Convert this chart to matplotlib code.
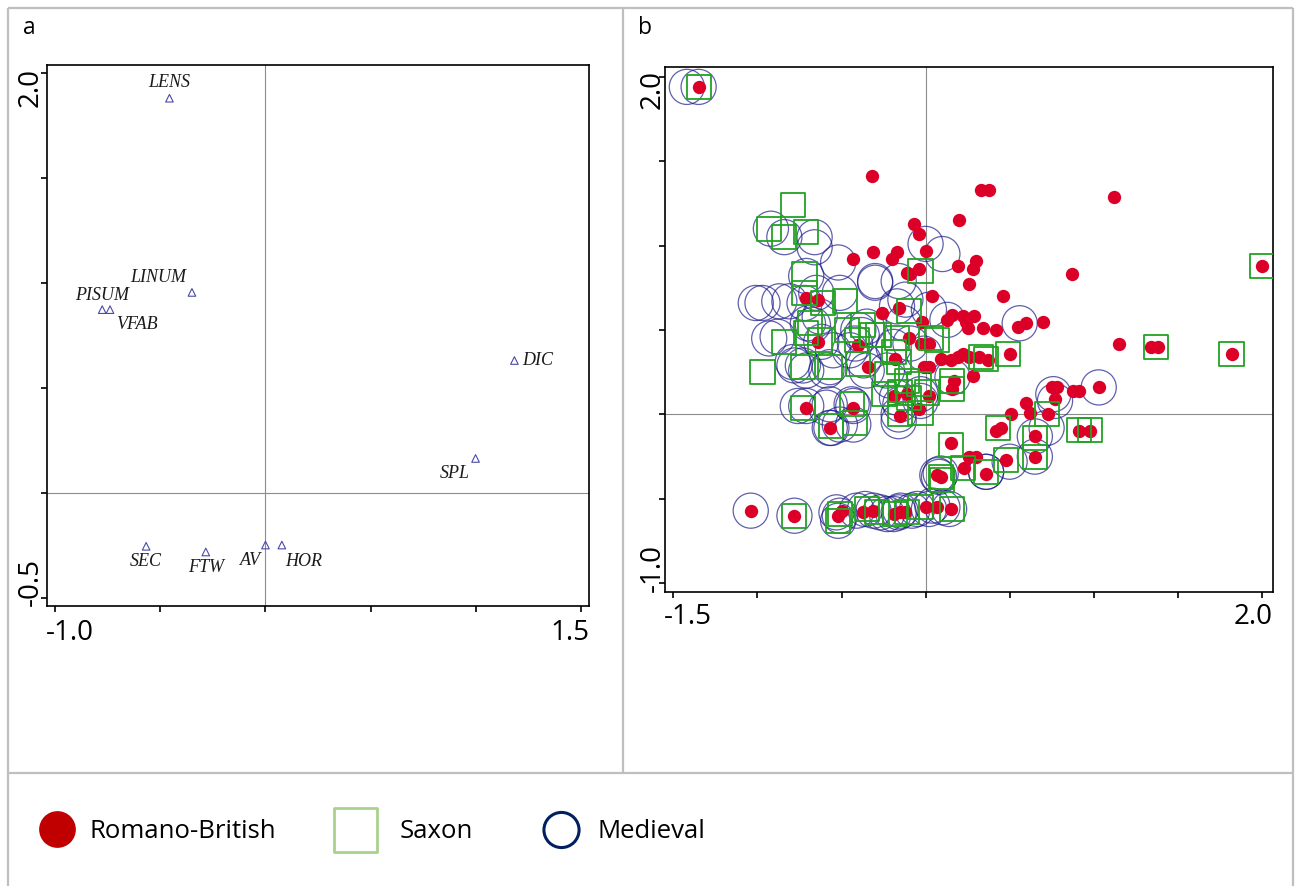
import numpy as np
import matplotlib
matplotlib.use('Agg')
import matplotlib.pyplot as plt

# ---- panel a : species scores ----
species = ['LENS', 'LINUM', 'PISUM', 'VFAB', 'DIC', 'SPL', 'SEC', 'FTW', 'AV', 'HOR']
sp_x = [-0.457, -0.35, -0.777, -0.740, 1.185, 1.000, -0.568, -0.284, 0.000, 0.078]
sp_y = [1.879, 0.955, 0.873, 0.873, 0.631, 0.165, -0.253, -0.280, -0.247, -0.247]

# ---- panel b : sample scores by period ----
rb_x = [-1.35, -0.32, 0.33, 0.38, 1.12, 0.20, -0.07, -0.04, 0.00, 0.30, 0.28, 0.19, 2.00, 0.87,
        -0.04, -0.09, 0.26, 0.46, 0.04, 0.13, 0.16, 0.22, 0.29, 0.25, 0.34, 0.42, 0.55, 0.60,
        0.70, -0.02, 1.15, 1.34, 1.38, 1.82, 0.50, 0.32, 0.37, 0.22, 0.15, 0.09, -0.01, 0.28,
        0.17, 0.16, 0.02, 1.03, 0.75, 0.78, 0.88, 0.91, 0.77, 0.60, 0.62, 0.73, 0.51, 0.42,
        0.45, 0.91, 0.98, 0.65, 0.15, 0.65, 0.48, 0.26, 0.30, 0.23, 0.36, 0.09, 0.07, -0.15,
        -0.12, -0.19, 0.00, 0.07, 0.15, -1.04, -0.78, -0.52, -0.50, -0.37, -0.31, -0.57, -0.43,
        -0.31, -0.17, -0.20, -0.11, -0.71, -0.64, -0.26, -0.16, -0.10, -0.03, 0.02, -0.64,
        -0.40, -0.18, -0.34, 0.02, -0.19, -0.11, -0.15, -0.04, -0.71, -0.43, 0.24, 0.19, 0.26]
rb_y = [1.94, 1.41, 1.33, 1.33, 1.29, 1.15, 1.13, 1.07, 0.97, 0.91, 0.86, 0.88, 0.88, 0.83,
        0.86, 0.83, 0.77, 0.70, 0.70, 0.56, 0.59, 0.58, 0.58, 0.51, 0.51, 0.50, 0.52, 0.54,
        0.55, 0.55, 0.42, 0.40, 0.40, 0.36, 0.36, 0.34, 0.32, 0.36, 0.32, 0.33, 0.28, 0.23,
        0.20, 0.15, 0.11, 0.16, 0.16, 0.16, 0.14, 0.14, 0.09, 0.07, 0.01, 0.00, 0.00, -0.10,
        -0.08, -0.10, -0.10, -0.13, -0.17, -0.25, -0.27, -0.25, -0.25, -0.32, -0.35, -0.37,
        -0.36, -0.58, -0.58, -0.59, -0.55, -0.55, -0.56, -0.57, -0.60, -0.60, -0.57, -0.58,
        -0.57, -0.08, 0.92, 0.96, 0.96, 0.92, 0.84, 0.69, 0.68, 0.60, 0.63, 0.45, 0.42, 0.42,
        0.43, 0.41, 0.33, 0.28, 0.28, 0.11, 0.12, -0.01, 0.03, 0.04, 0.04, 0.55, 0.34, 0.34]

sax_x = [-1.35, -0.79, -0.93, -0.84, -0.71, -0.72, -0.72, -0.61, -0.48, -0.03, 2.00, -0.69,
         -0.84, -0.63, -0.71, -0.47, -0.28, -0.41, -0.17, 0.03, -0.10, -0.97, -0.73, -0.57,
         -0.40, -0.19, -0.16, -0.23, -0.11, -0.25, -0.15, -0.10, 0.01, -0.04, -0.73, -0.44,
         -0.15, -0.03, -0.56, -0.42, 0.07, 0.33, 0.36, 0.49, 0.16, -0.32, -0.37, 0.72, 0.43,
         0.15, 1.37, 1.82, 0.91, 0.98, 0.65, 0.65, 0.48, 0.36, 0.09, 0.10, 0.22, -0.78, -0.51,
         -0.52, -0.35, -0.29, -0.18, -0.11, -0.03, 0.16, 0.16]
sax_y = [1.94, 1.24, 1.10, 1.05, 1.08, 0.83, 0.72, 0.66, 0.67, 0.85, 0.88, 0.54, 0.43, 0.44,
         0.48, 0.50, 0.47, 0.44, 0.45, 0.45, 0.61, 0.25, 0.28, 0.28, 0.30, 0.37, 0.31, 0.24,
         0.20, 0.12, 0.13, 0.10, 0.13, 0.18, 0.04, 0.06, 0.00, 0.01, -0.07, -0.05, 0.44, 0.34,
         0.33, 0.36, 0.20, 0.47, 0.53, 0.00, -0.08, -0.18, 0.40, 0.36, -0.09, -0.09, -0.14,
         -0.25, -0.27, -0.34, -0.37, -0.39, -0.32, -0.60, -0.59, -0.63, -0.56, -0.58, -0.59,
         -0.58, -0.55, -0.56, 0.15]

med_x = [-1.42, -1.35, -0.92, -0.84, -0.66, -0.66, -0.71, -0.65, -0.52, -0.30, -0.30, -0.16,
         0.00, 0.10, -1.01, -0.97, -0.87, -0.81, -0.72, -0.51, -0.67, -0.63, -0.70, -0.88,
         -0.93, -0.62, -0.79, -0.78, -0.73, -0.71, -0.59, -0.57, -0.40, -0.38, -0.42, -0.45,
         -0.55, -0.37, -0.35, -0.23, -0.21, -0.19, -0.13, -0.17, -0.12, 0.02, -0.09, -0.01,
         0.16, 0.13, 0.56, -0.35, -0.03, -0.17, -0.15, -0.16, -0.16, -0.03, -0.76, -0.71,
         -0.59, -0.57, -0.44, -0.43, -0.57, -0.56, -0.51, -0.43, 0.76, 0.77, 1.03, 0.72, 0.65,
         0.65, 0.50, 0.36, 0.36, 0.08, 0.09, 0.07, -1.04, -0.78, -0.53, -0.51, -0.52, -0.41,
         -0.36, -0.31, -0.27, -0.23, -0.19, -0.16, -0.15, -0.08, -0.05, 0.02, 0.04, 0.10, 0.14]
med_y = [1.94, 1.94, 1.10, 1.05, 1.05, 0.99, 0.82, 0.72, 0.90, 0.79, 0.78, 0.79, 1.01, 0.95,
         0.66, 0.66, 0.67, 0.67, 0.66, 0.72, 0.53, 0.58, 0.54, 0.46, 0.45, 0.43, 0.31, 0.29,
         0.29, 0.26, 0.26, 0.28, 0.50, 0.47, 0.42, 0.38, 0.38, 0.32, 0.26, 0.26, 0.20, 0.40,
         0.54, 0.64, 0.68, 0.62, 0.42, 0.36, 0.22, 0.56, 0.54, 0.52, 0.08, 0.10, 0.06, 0.00,
         -0.04, 0.12, 0.05, 0.05, 0.04, 0.06, 0.06, 0.05, -0.08, -0.08, -0.06, -0.06, 0.12,
         0.08, 0.16, -0.08, -0.13, -0.25, -0.28, -0.34, -0.34, -0.37, -0.35, -0.36, -0.57,
         -0.60, -0.58, -0.60, -0.63, -0.57, -0.56, -0.57, -0.58, -0.59, -0.59, -0.58, -0.57,
         -0.57, -0.56, -0.56, -0.54, -0.55, -0.56]

legend_labels = ['Romano-British', 'Saxon', 'Medieval']

tickfont = 'Open Sans'
gray = '#bfbfbf'

fig = plt.figure(figsize=(13.02, 8.86), dpi=100)

# background layer in pixel units: frame lines + legend
bg = fig.add_axes([0, 0, 1, 1], zorder=0)
bg.set_xlim(0, 1302)
bg.set_ylim(886, 0)
bg.axis('off')
for xs, ys in [([8, 8], [8, 886]), ([1293, 1293], [8, 886]), ([8, 1293], [8, 8]),
               ([8, 1293], [773, 773]), ([623, 623], [8, 773])]:
    bg.plot(xs, ys, color=gray, lw=1.6, solid_capstyle='butt')
bg.text(29, 28, 'a', fontsize=16.5, family=tickfont, ha='center', va='center')
bg.text(645, 28, 'b', fontsize=16.5, family=tickfont, ha='center', va='center')

bg.scatter([56.5], [829], s=700, c='#C00000', linewidths=0)
bg.scatter([355.5], [830], s=960, marker='s', facecolors='none', edgecolors='#A9D18E', linewidths=2)
bg.scatter([561.5], [830], s=640, facecolors='none', edgecolors='#002060', linewidths=2.2)
for xt, lab in zip([90, 400, 598], legend_labels):
    bg.text(xt, 838, lab, fontsize=18.5, family=tickfont, va='baseline', ha='left')


def style_axes(ax, xt, yt, xgap, ygap):
    ax.axhline(0, color='#8c8c8c', lw=0.8, zorder=0.5)
    ax.axvline(0, color='#8c8c8c', lw=0.8, zorder=0.5)
    for sp in ax.spines.values():
        sp.set_linewidth(1.2)
    ax.set_xticks(xt)
    ax.set_yticks(yt)
    ax.set_xticklabels([])
    ax.set_yticklabels([])
    ax.tick_params(axis='both', direction='out', length=4, width=1.2)
    # only the end values are labelled, flush with the axis ends
    kw = dict(xycoords='axes fraction', textcoords='offset points',
              family=tickfont, fontsize=20)
    ax.annotate('%.1f' % xt[0], (0, 0), xytext=(-1, -xgap), ha='left', va='top', **kw)
    ax.annotate('%.1f' % xt[-1], (1, 0), xytext=(0, -xgap), ha='right', va='top', **kw)
    ax.annotate('%.1f' % yt[0], (0, 0), xytext=(-ygap, 0), ha='left', va='baseline',
                rotation=90, rotation_mode='anchor', **kw)
    ax.annotate('%.1f' % yt[-1], (0, 1), xytext=(-ygap, -2), ha='right', va='baseline',
                rotation=90, rotation_mode='anchor', **kw)


# ---- panel a ----
axa = fig.add_axes([47.4 / 1302, 280 / 886, 541.6 / 1302, 541 / 886], zorder=1)
axa.set_xlim(-1.038, 1.54)
axa.set_ylim(-0.537, 2.037)
style_axes(axa, np.arange(-1.0, 1.51, 0.5), np.arange(-0.5, 2.01, 0.5), 9.5, 7)
axa.scatter(sp_x, sp_y, marker='^', s=30, facecolors='none', edgecolors='#4a4aa8',
            linewidths=0.8, zorder=3)
label_offsets = {'LENS': (0, 11), 'LINUM': (-24, 11), 'PISUM': (0, 10), 'VFAB': (19, -11),
                 'DIC': (17, 0), 'SPL': (-15, -11), 'SEC': (0, -11), 'FTW': (0, -11),
                 'AV': (-11, -11), 'HOR': (16, -11.5)}
for name, x, y in zip(species, sp_x, sp_y):
    axa.annotate(name, (x, y), xytext=label_offsets[name], textcoords='offset points',
                 ha='center', va='center', fontsize=13, style='italic',
                 family='Liberation Serif', color='#1a1a1a')

# ---- panel b ----
axb = fig.add_axes([665 / 1302, 294.3 / 886, 607.7 / 1302, 524.4 / 886], zorder=1)
axb.set_xlim(-1.55, 2.065)
axb.set_ylim(-1.05, 2.056)
style_axes(axb, np.arange(-1.5, 2.01, 0.5), np.arange(-1.0, 2.01, 0.5), 8, 4)
axb.scatter(med_x, med_y, s=640, facecolors='none', edgecolors='#1c1c8a', linewidths=0.9,
            alpha=0.7, zorder=2)
axb.scatter(rb_x, rb_y, s=92, c='#dc0028', linewidths=0, zorder=3)
axb.scatter(sax_x, sax_y, s=300, marker='s', facecolors='none', edgecolors='#22a322',
            linewidths=1.3, zorder=4)

fig.savefig('out.png', dpi=100)
